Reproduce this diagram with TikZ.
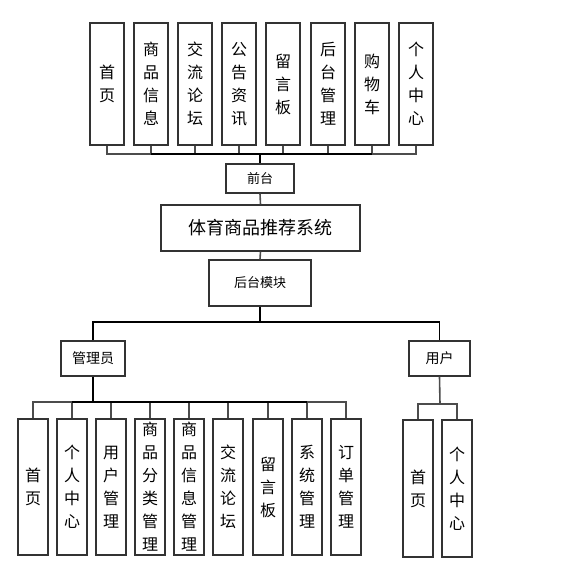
\documentclass[tikz,border=0pt]{standalone}
\usepackage{fontspec}
\setmainfont{Noto Sans CJK SC}
\begin{document}
\begin{tikzpicture}[x=1pt,y=-1pt,
  box/.style={draw=black!80, line width=1.1pt, fill=white, inner sep=0pt},
  topbox/.style={box, minimum width=34pt, minimum height=122pt},
  admbox/.style={box, minimum width=30pt, minimum height=136pt},
  vtxt/.style={inner sep=0pt, align=center, font=\fontsize{16}{23}\selectfont},
  hbox/.style={box, font=\fontsize{13}{15}\selectfont},
  branch/.style={draw=black!70, line width=1.1pt},
  link/.style={draw=black!70, line width=1.6pt},
  bus/.style={draw=black, line width=1.2pt},
  trunk/.style={draw=black, line width=2pt}]
\useasboundingbox (0,0) rectangle (564,565);
% top row
\foreach \n/\x/\t in {t1/107/{首\\页}, t2/151/{商\\品\\信\\息}, t3/195/{交\\流\\论\\坛}, t4/239/{公\\告\\资\\讯}, t5/283/{留\\言\\板}, t6/328/{后\\台\\管\\理}, t7/372/{购\\物\\车}, t8/416/{个\\人\\中\\心}}
  \node[topbox, label={[vtxt]center:\t}] (\n) at (\x,84) {};
\node[hbox, minimum width=68pt, minimum height=29pt] (qt) at (260,178.5) {前台};
\node[box, minimum width=199pt, minimum height=46pt, font=\fontsize{18}{20}\selectfont] (sys) at (260.5,228) {体育商品推荐系统};
\node[hbox, minimum width=102pt, minimum height=46pt] (bk) at (260,283) {后台模块};
\node[box, minimum width=64pt, minimum height=35pt, font=\fontsize{14}{16}\selectfont] (gly) at (93,358.5) {管理员};
\node[box, minimum width=61pt, minimum height=35pt, font=\fontsize{14}{16}\selectfont] (yh) at (439.5,358.5) {用户};
% admin row
\foreach \n/\x/\t in {a1/33/{首\\页}, a2/72/{个\\人\\中\\心}, a3/111/{用\\户\\管\\理}, a4/150/{商\\品\\分\\类\\管\\理}, a5/189/{商\\品\\信\\息\\管\\理}, a6/228/{交\\流\\论\\坛}, a7/268/{留\\言\\板}, a8/307/{系\\统\\管\\理}, a9/346/{订\\单\\管\\理}}
  \node[admbox, label={[vtxt]center:\t}] (\n) at (\x,487) {};
% user row
\node[admbox, minimum height=137pt, label={[vtxt]center:{首\\页}}] (u1) at (418,488.5) {};
\node[admbox, minimum height=137pt, label={[vtxt]center:{个\\人\\中\\心}}] (u2) at (457,488.5) {};
% bus points
\coordinate (topbus) at (260,154);
\coordinate (midbus) at (260,322);
\coordinate (admbus) at (93,402);
\coordinate (usrbus) at (440,404);
% connectors
\foreach \n in {t1,t2,t3,t4,t5,t6,t7,t8}
  \draw[branch] (\n.south) |- (topbus);
\draw[bus] (t2.south |- topbus) -- (t7.south |- topbus);
\draw[trunk] (topbus) -- (qt.north);
\draw[link] (qt.south) -- (sys.north);
\draw[link] (sys.south) -- (bk.north);
\draw[trunk] (bk.south) -- (midbus);
\draw[bus] (gly.north) |- (midbus);
\draw[bus] (yh.north) |- (midbus);
\draw[trunk] (gly.south) -- (admbus);
\foreach \n in {a1,a2,a3,a4,a5,a6,a7,a8,a9}
  \draw[branch] (\n.north) |- (admbus);
\draw[bus] (a2.north |- admbus) -- (a8.north |- admbus);
\draw[link] (yh.south) -- (usrbus);
\foreach \n in {u1,u2}
  \draw[branch] (\n.north) |- (usrbus);
\end{tikzpicture}
\end{document}
